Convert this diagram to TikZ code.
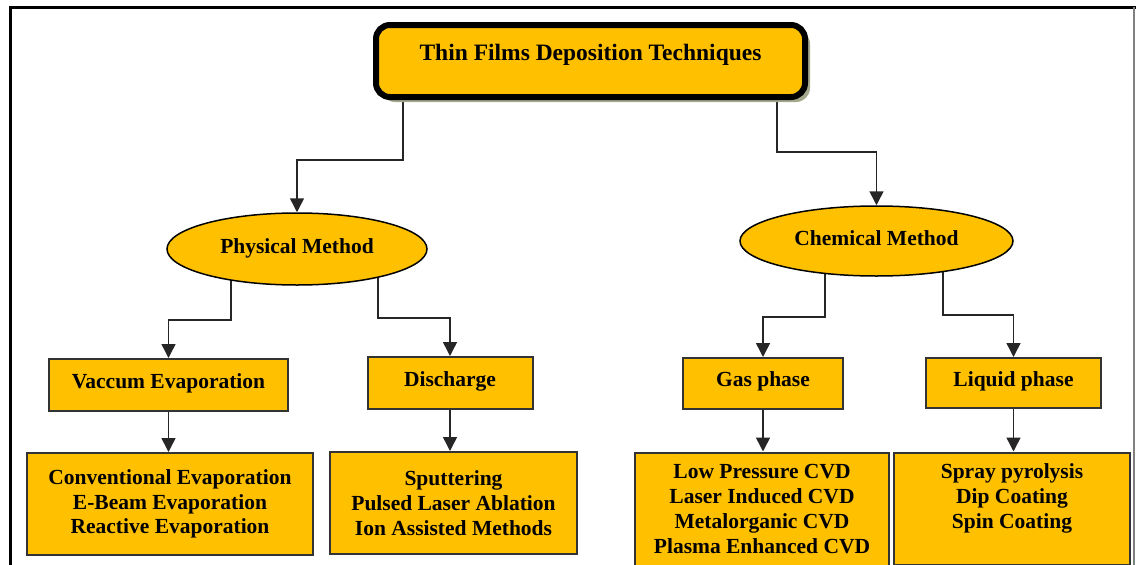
\documentclass[tikz,border=0pt]{standalone}
\usepackage{fontspec}
\setmainfont{Liberation Serif}
\usetikzlibrary{shapes.geometric,arrows.meta,backgrounds,shadows}
\definecolor{boxfill}{HTML}{FFC000}
\definecolor{boxline}{HTML}{333333}
\definecolor{shadowgray}{HTML}{A4A88C}
\tikzset{
  box/.style={draw=boxline, line width=2pt, fill=boxfill, inner sep=0pt, align=center,
    font=\bfseries\fontsize{21.5}{24.7}\selectfont},
  oneline/.style={text height=15pt, text depth=9pt},
  method/.style={ellipse, draw=black, line width=1.5pt, fill=boxfill, inner sep=0pt,
    text height=15pt, text depth=7pt, font=\bfseries\fontsize{21.5}{24.7}\selectfont},
  headbox/.style={rectangle, rounded corners=14pt, draw=black, line width=6pt, fill=boxfill,
    inner sep=0pt, text height=17pt, text depth=19pt,
    drop shadow={shadow xshift=5pt, shadow yshift=-5pt, fill=shadowgray, opacity=1},
    font=\bfseries\fontsize{23.5}{28}\selectfont},
  arr/.style={-{Triangle[width=14pt,length=14pt]}, line width=1.5pt, draw=black!85}
}
\begin{document}
\begin{tikzpicture}[x=1pt, y=-1pt]
      \useasboundingbox (0,0) rectangle (1136,565);
      \node (title) [headbox, minimum width=429pt, minimum height=72pt] at (590.5,61) {Thin Films Deposition Techniques};
      \node (phys) [method, minimum width=260pt, minimum height=72pt] at (297,249) {Physical Method};
      \node (chem) [method, minimum width=273pt, minimum height=70pt] at (876.5,241) {Chemical Method};
      \node (vac) [box, oneline, minimum width=239pt, minimum height=52pt] at (168.5,385) {Vaccum Evaporation};
      \node (dis) [box, oneline, minimum width=165pt, minimum height=52pt] at (450,383) {Discharge};
      \node (gas) [box, oneline, minimum width=160pt, minimum height=51pt] at (763,383.5) {Gas phase};
      \node (liq) [box, oneline, minimum width=175pt, minimum height=50pt] at (1013.5,383) {Liquid phase};
      \node (conv) [box, minimum width=286pt, minimum height=102pt] at (170,504) {Conventional Evaporation\\E-Beam Evaporation\\Reactive Evaporation};
      \node (sput) [box, minimum width=247pt, minimum height=102pt] at (453.5,503) {Sputtering\\Pulsed Laser Ablation\\Ion Assisted Methods};
      \node (cvd) [box, minimum width=254pt, minimum height=113pt] at (762,509) {Low Pressure CVD\\Laser Induced CVD\\Metalorganic CVD\\Plasma Enhanced CVD};
      \node (spray) [box, minimum width=236pt, minimum height=112pt] at (1012,508.5) {Spray pyrolysis\\Dip Coating\\Spin Coating\\\mbox{}};
      \begin{scope}[on background layer]
        \draw [line width=3pt] (10,565) -- (10,7) -- (1136,7);
        \draw [gray, line width=1.2pt] (1134,7) -- (1134,565);
        \draw [arr] ([xshift=-187.5pt]title.center) -- ++(0,99) -| (phys);
        \draw [arr] ([xshift=186.5pt]title.center) -- ++(0,91) -| (chem);
        \draw [arr] ([xshift=-66pt]phys.center) -- ++(0,71) -| (vac);
        \draw [arr] ([xshift=81pt]phys.center) -- ++(0,69) -| (dis);
        \draw [arr] ([xshift=-51.5pt]chem.center) -- ++(0,76) -| (gas);
        \draw [arr] ([xshift=66.5pt]chem.center) -- ++(0,74) -| (liq);
        \draw [arr] (vac.south) -- (vac.south |- conv.north);
        \draw [arr] (dis.south) -- (dis.south |- sput.north);
        \draw [arr] (gas.south) -- (gas.south |- cvd.north);
        \draw [arr] (liq.south) -- (liq.south |- spray.north);
      \end{scope}
    \end{tikzpicture}
\end{document}
